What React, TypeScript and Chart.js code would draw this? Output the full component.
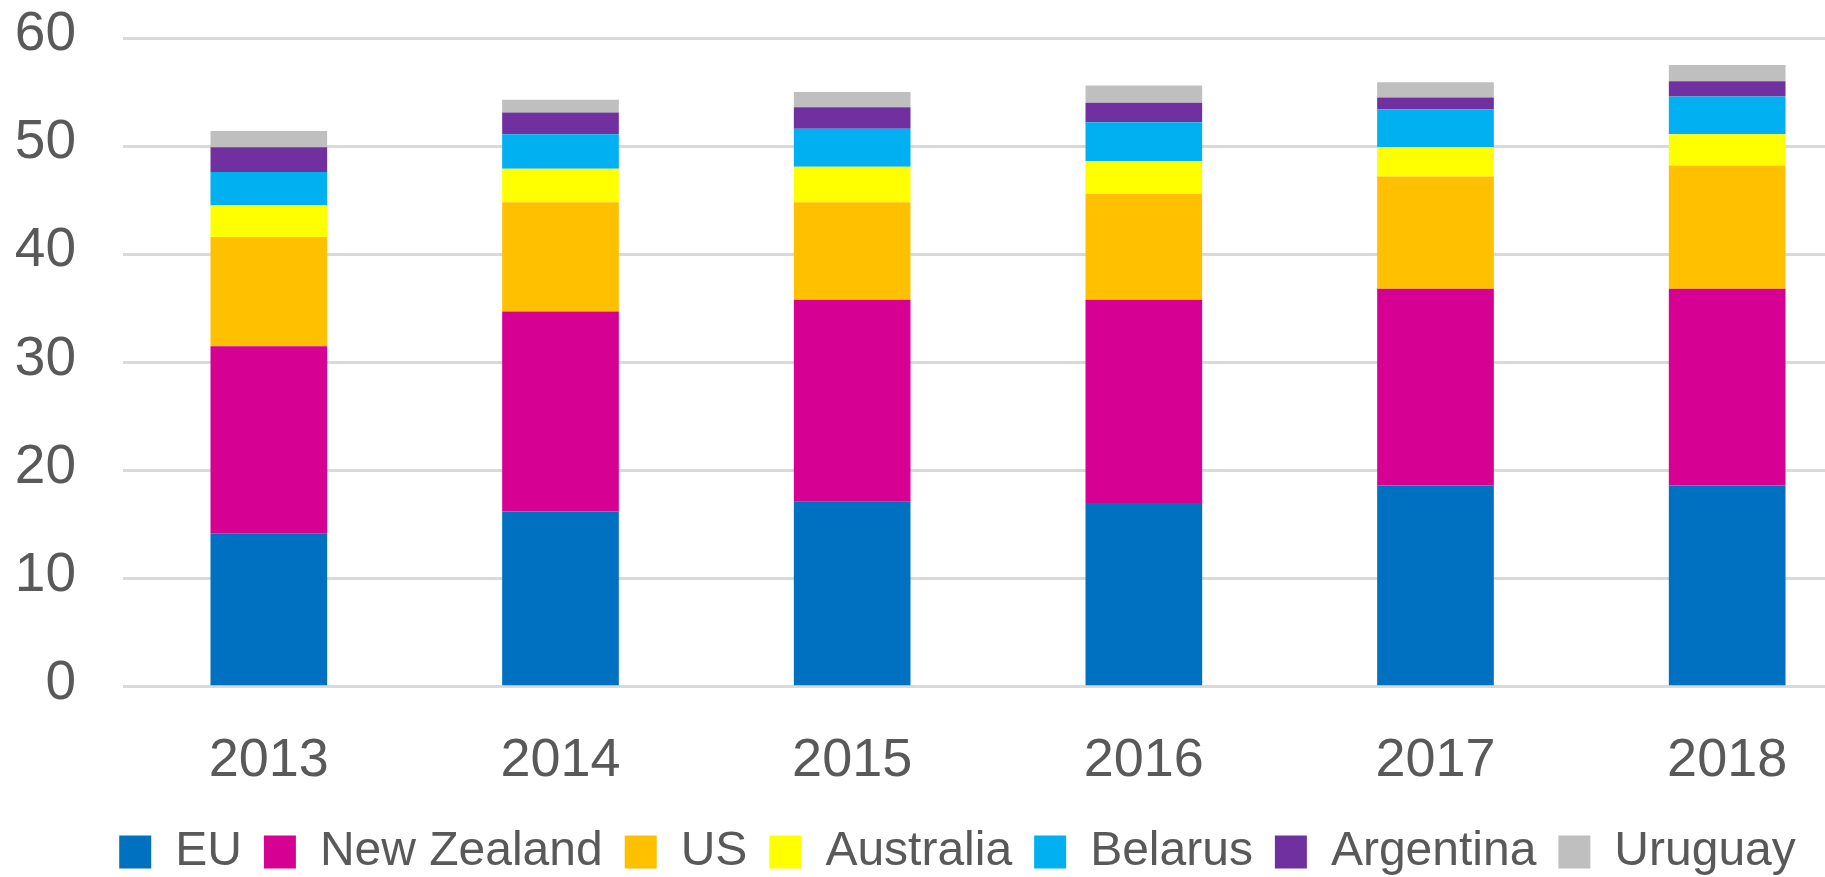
import React, { useEffect, useRef } from 'react';
import { Chart, registerables } from 'chart.js';

Chart.register(...registerables);

const years = ['2013', '2014', '2015', '2016', '2017', '2018'];
const euValues = [14.2, 16.2, 17.1, 17.0, 18.6, 18.6];
const newZealandValues = [17.3, 18.5, 18.7, 18.8, 18.2, 18.2];
const usValues = [10.1, 10.1, 9.0, 9.8, 10.4, 11.4];
const australiaValues = [2.9, 3.1, 3.3, 3.0, 2.7, 2.9];
const belarusValues = [3.1, 3.2, 3.5, 3.6, 3.5, 3.5];
const argentinaValues = [2.3, 2.0, 2.0, 1.8, 1.1, 1.4];
const uruguayValues = [1.5, 1.2, 1.4, 1.6, 1.4, 1.5];
const yMin = 0;
const yMax = 60;
const yStep = 10;

const seriesNames = ['EU', 'New Zealand', 'US', 'Australia', 'Belarus', 'Argentina', 'Uruguay'];
const seriesColors = ['#0070C0', '#D60093', '#FFC000', '#FFFF00', '#00B0F0', '#7030A0', '#BFBFBF'];
const seriesValues = [euValues, newZealandValues, usValues, australiaValues, belarusValues, argentinaValues, uruguayValues];

const FONT = "'Liberation Sans', Arial, sans-serif";
const TEXT = '#595959';

// shifts the legend's box so that it is centred like the original
const legendOffset = {
  id: 'legendOffset',
  afterLayout(chart: any) {
    if (chart.legend) {
      chart.legend.left = 42;
    }
  },
};

export default function App() {
  const ref = useRef<HTMLCanvasElement | null>(null);

  useEffect(() => {
    if (!ref.current) return;
    const chart = new Chart(ref.current, {
      type: 'bar',
      data: {
        labels: years,
        datasets: seriesNames.map((name, i) => ({
          label: name,
          data: seriesValues[i],
          backgroundColor: seriesColors[i],
          borderWidth: 0,
          categoryPercentage: 0.4,
          barPercentage: 1.0,
        })),
      },
      options: {
        responsive: false,
        animation: false,
        devicePixelRatio: 1,
        layout: { padding: { left: 12, right: 27, top: 38, bottom: 0 } },
        plugins: {
          tooltip: { enabled: false },
          legend: {
            position: 'bottom',
            labels: {
              boxWidth: 32,
              boxHeight: 33,
              padding: 22,
              color: TEXT,
              font: { family: FONT, size: 48 },
            },
          },
        },
        scales: {
          x: {
            stacked: true,
            grid: { display: false, drawTicks: false },
            border: { display: false },
            ticks: {
              color: TEXT,
              padding: 42,
              font: { family: FONT, size: 54, lineHeight: 1.2 },
              maxRotation: 0,
            },
            afterFit: (scale: any) => {
              scale.height = 119.3;
            },
          },
          y: {
            stacked: true,
            min: yMin,
            max: yMax,
            grid: { color: '#D9D9D9', lineWidth: 3, drawTicks: false },
            border: { display: false },
            ticks: {
              stepSize: yStep,
              color: TEXT,
              padding: 47,
              labelOffset: -3,
              font: { family: FONT, size: 55 },
            },
            afterFit: (scale: any) => {
              scale.width = 111;
              scale.paddingTop = 0;
            },
          },
        },
      },
      plugins: [legendOffset],
    });
    return () => chart.destroy();
  }, []);

  return (
    <div style={{ position: 'fixed', left: 0, top: 0, width: 1825, height: 877, overflow: 'hidden', background: '#fff' }}>
      <canvas ref={ref} width={1900} height={886} style={{ width: 1900, height: 886, display: 'block' }} />
    </div>
  );
}
